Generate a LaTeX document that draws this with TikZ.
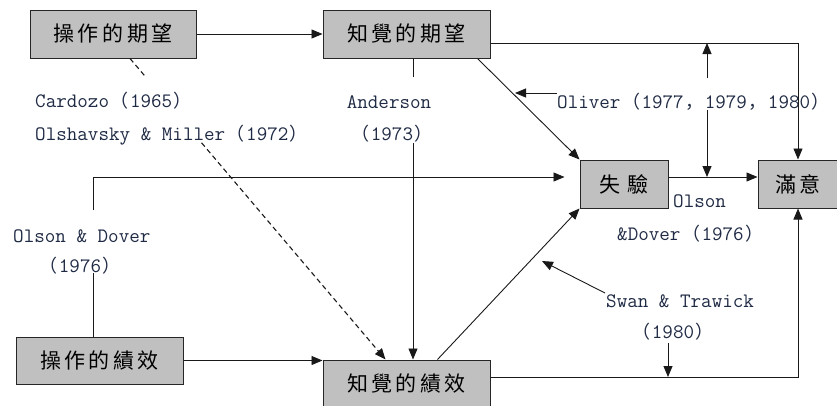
\documentclass[tikz,border=0pt]{standalone}
\usepackage{fontspec}
\newfontfamily\cjk{Noto Sans CJK TC}
\newfontfamily\cjkp{Noto Sans CJK SC}
\usetikzlibrary{arrows.meta,calc}
\definecolor{labcol}{HTML}{1F2A44}
\definecolor{boxfill}{HTML}{C0C0C0}
\newcommand\fw[1]{\makebox[21pt]{\cjkp\fontsize{18}{20}\selectfont #1}}
\newcommand\gsp{\hspace{3.5pt}}
\begin{document}
\begin{tikzpicture}[x=1pt,y=-1pt,
  box/.style={draw=black!85, line width=1pt, fill=boxfill, inner sep=0pt, font=\cjk\fontsize{21}{24}\selectfont},
  lab/.style={text=labcol, inner sep=0pt, font=\ttfamily\fontsize{20.5}{22}\selectfont},
  arr/.style={-{Triangle[length=11pt,width=9pt]}},
  conn/.style={line width=0.9pt, draw=black!90}]
\useasboundingbox (0,0) rectangle (837,405);

% boxes
\node[box, minimum width=166pt, minimum height=48pt] (e1) at (113,34) {操\gsp{}作\gsp{}的\gsp{}期\gsp{}望};
\node[box, minimum width=167pt, minimum height=48pt] (e2) at (406.5,34) {知\gsp{}覺\gsp{}的\gsp{}期\gsp{}望};
\node[box, minimum width=88pt, minimum height=48pt] (d) at (624,184) {失\hspace{7pt}驗};
\node[box, minimum width=80pt, minimum height=48pt] (s) at (798,184) {滿\gsp{}意};
\node[box, minimum width=167pt, minimum height=47pt] (p1) at (99.5,360.5) {操\gsp{}作\gsp{}的\gsp{}績\gsp{}效};
\node[box, minimum width=167pt, minimum height=46pt] (p2) at (406.5,383) {知\gsp{}覺\gsp{}的\gsp{}績\gsp{}效};

% labels
\node[lab, anchor=base west] (cz) at (35,107) {Cardozo\fw{（}1965\fw{）}};
\node[lab, anchor=base west] (om) at (35,140) {Olshavsky \& Miller\fw{（}1972\fw{）}};
\node[lab, anchor=base] (an1) at (389,108) {Anderson};
\node[lab, anchor=base] (an2) at (392,140) {\fw{（}1973\fw{）}};
\node[lab, anchor=base west] (ol) at (557,108) {Oliver\fw{（}1977\fw{，}1979\fw{，}1980\fw{）}};
\node[lab, anchor=base west] (os1) at (673,207) {Olson};
\node[lab, anchor=base west] (os2) at (617,240) {\&Dover\fw{（}1976\fw{）}};
\node[lab, anchor=base west] (od1) at (13,242) {Olson \& Dover};
\node[lab, anchor=base] (od2) at (80,272) {\fw{（}1976\fw{）}};
\node[lab, anchor=base west] (sw) at (606,307) {Swan \& Trawick};
\node[lab, anchor=base] (swy) at (673,338) {\fw{（}1980\fw{）}};

% connectors
\draw[conn,arr] (e1.east) -- (e2.west);
\draw[conn,arr] (e2.east |- 0,43) -| (s.north);

\coordinate (vt) at (707,43);
\coordinate (va) at (707,78);
\coordinate (vb) at (707,110);
\coordinate (vc) at (707,177);
\draw[conn,arr] (va) -- (vt);
\draw[conn,arr] (vb) -- (vc);

\draw[conn,arr] (d.east |- 0,177) -- (s.west |- 0,177);
\draw[conn,arr] ([xshift=-13pt]e2.south east) -- (d.north west);

\coordinate (olt) at (515,93);
\draw[conn,arr] (ol.west |- 0,93) -- (olt);

\coordinate (dA) at ([xshift=17pt]e1.south);
\coordinate (dB) at ([xshift=63pt]p2.north west);
\draw[conn,line width=1.1pt,dash pattern=on 5pt off 3.5pt] (dA) -- ($(dA)!0.06!(dB)$);
\draw[conn,line width=1.1pt,dash pattern=on 5pt off 3.5pt,arr] ($(dA)!0.28!(dB)$) -- (dB);

\coordinate (aA) at (e2.south -| 413,0);
\coordinate (aB) at (413,77);
\coordinate (aC) at (413,143);
\draw[conn] (aA) -- (aB);
\draw[conn,arr] (aC) -- (aC |- p2.north);

\coordinate (lA) at (p1.north -| 93,0);
\coordinate (lB) at (93,273);
\coordinate (lC) at (93,210);
\draw[conn] (lA) -- (lB);
\draw[conn,arr] (lC) |- ($(d.west)+(-15,-7)$);

\draw[conn,arr] (p1.east) -- (p1.east -| p2.west);
\draw[conn,arr] ([xshift=115pt]p2.north west) -- (d.south west);

\coordinate (sw1) at (605,293);
\coordinate (sw2) at (542,261);
\draw[conn,arr] (sw1) -- (sw2);
\coordinate (sd1) at (668,343);
\coordinate (sd2) at (668,377);
\draw[conn,arr] (sd1) -- (sd2);
\draw[conn,arr] (p2.east |- 0,377) -| (s.south);
\end{tikzpicture}
\end{document}
